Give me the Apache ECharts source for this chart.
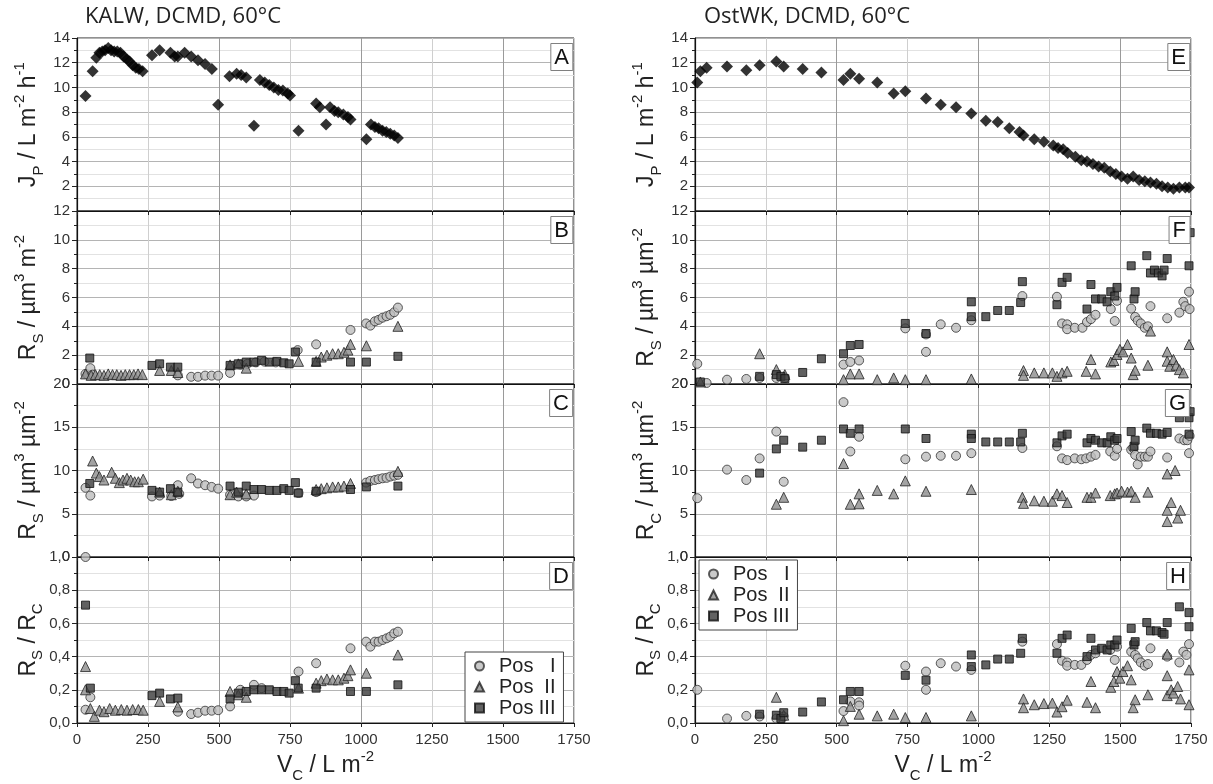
<!DOCTYPE html>
<html>
<head>
<meta charset="utf-8">
<title>KALW / OstWK, DCMD, 60°C</title>
<script src="https://cdn.jsdelivr.net/npm/echarts@6/dist/echarts.min.js"></script>
<style>
  html, body { margin: 0; padding: 0; background: #fff; }
  #chart { width: 1213px; height: 784px; }
</style>
</head>
<body>
<div id="chart"></div>
<script>
// x ticks shared by every panel
const xTicks = { min: 0, max: 1750, interval: 250 };

// ---- KALW (left column) ----
// A: permeate flux
const kalwFlux = [[30,9.3],[55,11.3],[68,12.4],[79,12.8],[89,12.9],[99,13.0],[110,13.2],[120,13.0],[131,12.9],[142,12.9],[153,12.8],[164,12.5],[175,12.3],[185,12.1],[196,11.8],[207,11.6],[218,11.5],[231,11.3],
  [264,12.6],[291,13.0],[329,12.8],[344,12.5],[355,12.5],[379,12.8],[402,12.5],[426,12.2],[451,11.9],[475,11.5],
  [497,8.6],[537,10.9],[562,11.1],[578,11.0],[596,10.8],[623,6.9],
  [644,10.6],[661,10.4],[677,10.2],[693,10.0],[709,9.8],[725,9.75],[742,9.5],[750,9.35],[780,6.5],
  [842,8.7],[855,8.4],[877,7.0],[891,8.4],[907,8.1],[920,8.0],[938,7.8],[954,7.6],[963,7.4],
  [1019,5.8],[1035,7.0],[1049,6.8],[1062,6.7],[1076,6.5],[1089,6.4],[1103,6.25],[1117,6.1],[1130,5.9]];
// B: R_S
const kalwRsI = [[30,0.7],[38,0.65],[47,1.1],[55,0.65],[355,0.6],[402,0.5],[426,0.5],[451,0.58],[474,0.58],[497,0.58],[539,0.77],[575,1.35],[600,1.4],[630,1.5],[660,1.55],[700,1.5],[777,2.35],[842,2.75],[963,3.75],[1018,4.2],[1033,4.05],[1049,4.35],[1062,4.45],[1076,4.6],[1090,4.7],[1103,4.8],[1117,4.98],[1130,5.3]];
const kalwRsII = [[30,0.7],[50,0.6],[65,0.65],[80,0.65],[95,0.6],[110,0.7],[125,0.65],[140,0.65],[155,0.6],[170,0.65],[185,0.65],[200,0.65],[215,0.7],[230,0.65],[291,0.94],[332,0.94],[355,0.8],[539,1.33],[568,1.4],[596,1.1],[780,1.57],[842,1.57],[860,1.87],[880,2.0],[900,2.1],[920,2.1],[940,2.2],[954,2.35],[963,2.75],[1019,2.65],[1130,4.0]];
const kalwRsIII = [[45,1.8],[264,1.29],[291,1.4],[329,1.17],[355,1.17],[539,1.29],[568,1.4],[596,1.52],[623,1.52],[650,1.64],[677,1.52],[704,1.57],[728,1.47],[747,1.4],[769,2.22],[842,1.52],[963,1.52],[1019,1.52],[1130,1.92]];
// C: R_C
const kalwRcI = [[30,8.0],[47,7.1],[264,7.0],[291,7.1],[332,7.05],[355,8.3],[360,7.3],[402,9.1],[426,8.5],[451,8.3],[474,8.1],[497,7.9],[539,7.2],[568,7.0],[596,7.0],[623,7.1],[780,7.4],[842,7.5],[1018,8.6],[1033,8.8],[1049,8.9],[1062,9.0],[1076,9.1],[1090,9.15],[1103,9.3],[1117,9.4],[1130,9.5]];
const kalwRcII = [[55,11.1],[68,9.7],[79,9.3],[95,8.9],[122,9.8],[135,9.1],[149,8.6],[162,8.9],[176,9.1],[189,8.9],[203,8.7],[216,8.7],[233,9.0],[291,7.5],[332,7.2],[355,7.6],[539,7.2],[562,7.5],[596,7.3],[842,7.8],[860,7.9],[880,8.0],[900,8.1],[920,8.1],[940,8.2],[963,8.5],[1130,9.9]];
const kalwRcIII = [[45,8.5],[264,7.7],[291,7.5],[329,7.9],[355,7.5],[539,8.2],[568,7.5],[596,8.2],[623,7.8],[650,7.8],[677,7.7],[704,7.7],[728,7.9],[747,7.7],[769,8.6],[779,7.4],[842,7.6],[963,7.8],[1019,8.1],[1130,8.2]];
// D: R_S / R_C
const kalwRatioI = [[30,1.0],[30,0.08],[47,0.155],[355,0.068],[402,0.054],[426,0.062],[451,0.074],[474,0.074],[497,0.077],[539,0.10],[575,0.2],[623,0.23],[650,0.21],[780,0.31],[842,0.36],[963,0.45],[1018,0.49],[1033,0.46],[1049,0.49],[1062,0.49],[1076,0.50],[1090,0.51],[1103,0.52],[1117,0.54],[1130,0.55]];
const kalwRatioII = [[30,0.34],[30,0.2],[47,0.087],[61,0.04],[79,0.077],[95,0.068],[115,0.087],[135,0.077],[156,0.081],[176,0.077],[196,0.081],[216,0.081],[233,0.077],[291,0.13],[355,0.097],[539,0.19],[568,0.17],[596,0.155],[780,0.21],[842,0.24],[860,0.255],[880,0.265],[900,0.26],[920,0.26],[940,0.27],[954,0.285],[963,0.32],[1019,0.30],[1130,0.41]];
const kalwRatioIII = [[30,0.71],[47,0.21],[264,0.165],[291,0.18],[329,0.145],[355,0.15],[539,0.145],[568,0.18],[596,0.19],[623,0.2],[650,0.2],[677,0.2],[704,0.19],[728,0.19],[747,0.18],[769,0.255],[779,0.21],[842,0.21],[963,0.19],[1019,0.19],[1130,0.23]];

// ---- OstWK (right column) ----
// E: permeate flux
const ostFlux = [[8,10.4],[19,11.3],[41,11.6],[113,11.7],[181,11.4],[228,11.8],[287,12.1],[313,11.7],[380,11.5],[446,11.2],[524,10.6],[548,11.1],[579,10.7],[643,10.4],[701,9.5],[742,9.7],[815,9.1],[867,8.6],[921,8.4],[975,7.9],
  [1026,7.3],[1068,7.2],[1109,6.7],[1145,6.4],[1159,6.1],[1197,5.8],[1231,5.6],[1264,5.3],[1281,5.1],[1299,5.0],[1315,4.7],[1342,4.4],[1363,4.1],[1383,4.0],[1404,3.8],[1424,3.6],[1444,3.5],[1465,3.2],[1485,3.0],[1505,2.8],
  [1526,2.6],[1546,2.8],[1567,2.5],[1587,2.4],[1607,2.3],[1628,2.2],[1648,2.0],[1668,1.9],[1688,1.8],[1709,1.9],[1730,1.9],[1743,1.9]];
// F: R_S
const ostRsI = [[8,1.4],[41,0.07],[113,0.3],[181,0.35],[228,0.42],[287,0.42],[317,0.42],[524,1.35],[548,1.53],[579,1.63],[742,3.86],[815,2.23],[815,3.44],[867,4.14],[921,3.9],[975,4.42],[1155,6.1],[1277,6.05],[1295,4.2],[1313,4.14],[1313,3.8],[1340,3.9],[1367,3.9],[1383,4.3],[1397,4.5],[1413,4.8],
  [1467,5.2],[1481,4.37],[1489,5.77],[1539,5.23],[1553,4.65],[1562,4.4],[1573,4.2],[1587,3.9],[1598,4.0],[1607,5.4],[1666,4.56],[1709,4.95],[1723,5.7],[1730,5.4],[1743,6.4],[1745,5.2]];
const ostRsII = [[19,0.14],[228,2.1],[287,1.0],[317,0.65],[524,0.3],[548,0.7],[579,0.7],[643,0.3],[701,0.42],[742,0.3],[815,0.3],[975,0.35],[1159,0.93],[1159,0.6],[1197,0.77],[1231,0.77],[1261,0.77],[1277,0.53],[1295,0.77],[1313,0.88],[1380,0.88],[1397,1.7],[1413,0.7],
  [1467,1.53],[1478,1.63],[1489,2.05],[1499,2.4],[1510,2.23],[1526,2.74],[1539,1.8],[1546,0.65],[1553,0.95],[1598,1.3],[1607,3.67],[1666,2.23],[1666,1.58],[1675,1.23],[1688,1.7],[1698,1.3],[1709,1.0],[1723,0.77],[1743,2.74]];
const ostRsIII = [[19,0.14],[228,0.53],[287,0.65],[303,0.53],[317,0.37],[380,0.8],[446,1.75],[524,2.1],[548,2.67],[579,2.74],[742,4.2],[815,3.5],[975,5.7],[975,4.67],[1026,4.67],[1068,5.1],[1109,5.1],[1149,5.65],[1155,7.1],[1277,5.5],[1295,7.05],[1313,7.4],[1383,5.2],[1397,6.9],[1413,5.9],[1435,5.9],[1454,5.7],
  [1467,6.4],[1481,6.1],[1489,6.7],[1539,8.2],[1549,5.9],[1553,6.4],[1594,8.9],[1607,7.7],[1621,7.9],[1635,7.7],[1648,7.5],[1655,7.9],[1666,8.7],[1743,8.2],[1747,10.5]];
// G: R_C
const ostRcI = [[8,6.8],[113,10.1],[181,8.9],[228,11.4],[287,14.5],[313,8.7],[524,17.9],[548,12.2],[579,13.9],[742,11.3],[815,11.6],[867,11.7],[921,11.7],[975,12.0],[1155,12.6],[1277,12.8],[1295,11.4],[1313,11.2],[1340,11.4],[1363,11.3],[1380,11.4],[1397,11.6],[1413,11.8],
  [1465,12.2],[1481,11.7],[1489,12.5],[1539,12.4],[1546,12.6],[1553,11.8],[1562,10.7],[1573,11.6],[1587,11.6],[1598,11.6],[1607,12.2],[1666,11.5],[1709,13.7],[1726,13.5],[1737,13.5],[1743,12.0],[1745,14.0]];
const ostRcII = [[287,6.1],[313,6.9],[524,10.8],[548,6.1],[579,7.3],[579,6.15],[643,7.7],[701,7.3],[742,8.8],[815,7.6],[975,7.8],[1155,6.9],[1159,6.2],[1197,6.5],[1231,6.45],[1261,6.45],[1277,7.3],[1295,7.1],[1313,6.3],[1383,6.9],[1397,6.9],[1413,7.4],
  [1465,7.1],[1481,7.3],[1489,7.4],[1505,7.6],[1526,7.5],[1539,7.6],[1553,6.9],[1598,7.5],[1666,4.1],[1666,5.4],[1666,9.6],[1680,6.3],[1694,10.0],[1703,4.5],[1713,5.4]];
const ostRcIII = [[228,9.7],[287,12.5],[313,13.5],[380,12.7],[446,13.5],[524,14.8],[548,14.3],[579,14.8],[742,14.8],[815,13.7],[975,14.2],[975,13.7],[1026,13.3],[1068,13.3],[1109,13.3],[1149,13.3],[1155,14.3],[1277,13.2],[1295,14.0],[1313,14.2],[1383,13.2],[1397,13.7],[1413,13.5],[1435,13.2],[1454,13.2],
  [1467,13.9],[1481,13.5],[1489,13.7],[1539,14.5],[1549,12.8],[1553,13.5],[1594,14.9],[1607,14.3],[1628,14.3],[1648,14.2],[1666,14.4],[1709,16.1],[1743,16.1],[1747,16.8],[1743,14.2]];
// H: R_S / R_C
const ostRatioI = [[8,0.20],[113,0.027],[181,0.043],[228,0.039],[287,0.027],[313,0.039],[524,0.072],[548,0.13],[579,0.125],[579,0.105],[742,0.345],[815,0.2],[815,0.31],[867,0.36],[921,0.34],[975,0.32],[1155,0.49],[1277,0.475],[1295,0.375],[1313,0.365],[1313,0.345],[1340,0.35],[1363,0.35],[1383,0.38],[1397,0.41],[1413,0.42],
  [1465,0.44],[1481,0.38],[1489,0.46],[1539,0.43],[1549,0.48],[1553,0.41],[1562,0.39],[1573,0.365],[1587,0.345],[1598,0.355],[1607,0.45],[1666,0.40],[1709,0.365],[1723,0.43],[1734,0.41],[1743,0.475]];
const ostRatioII = [[287,0.155],[313,0.047],[524,0.014],[548,0.10],[579,0.053],[643,0.043],[701,0.053],[742,0.033],[815,0.033],[975,0.043],[1159,0.145],[1159,0.092],[1197,0.11],[1231,0.117],[1261,0.12],[1277,0.066],[1295,0.098],[1313,0.137],[1383,0.125],[1397,0.25],[1413,0.092],
  [1467,0.215],[1478,0.25],[1489,0.31],[1499,0.27],[1510,0.31],[1526,0.345],[1539,0.26],[1546,0.092],[1553,0.14],[1598,0.17],[1666,0.285],[1666,0.415],[1666,0.165],[1680,0.2],[1688,0.18],[1703,0.22],[1713,0.145],[1743,0.11],[1743,0.32]];
const ostRatioIII = [[228,0.053],[287,0.047],[303,0.027],[313,0.062],[380,0.066],[446,0.127],[524,0.14],[548,0.19],[579,0.19],[742,0.287],[815,0.258],[975,0.41],[975,0.34],[1026,0.35],[1068,0.385],[1109,0.385],[1149,0.42],[1155,0.51],[1277,0.42],[1295,0.51],[1313,0.53],[1383,0.40],[1397,0.51],[1413,0.44],[1435,0.45],[1454,0.44],
  [1467,0.47],[1481,0.47],[1489,0.50],[1539,0.57],[1549,0.47],[1553,0.49],[1594,0.605],[1607,0.555],[1628,0.555],[1648,0.545],[1655,0.535],[1666,0.605],[1709,0.70],[1743,0.665],[1743,0.58]];

// y ranges, one per row
const yRanges = [
  { min: 0, max: 14, interval: 2 },
  { min: 0, max: 12, interval: 2 },
  { min: 0, max: 20, interval: 5 },
  { min: 0, max: 1, interval: 0.2 }
];
const letters = ["A", "B", "C", "D", "E", "F", "G", "H"];
const yNames = [
  "{m|J}{sub|P}{m| / L m}{sup|-2}{m| h}{sup|-1}",
  "{m|R}{sub|S}{m| / µm}{sup|3}{m| m}{sup|-2}",
  "{m|R}{sub|S}{m| / µm}{sup|3}{m| µm}{sup|-2}",
  "{m|R}{sub|S}{m| / R}{sub|C}",
  "{m|J}{sub|P}{m| / L m}{sup|-2}{m| h}{sup|-1}",
  "{m|R}{sub|S}{m| / µm}{sup|3}{m| µm}{sup|-2}",
  "{m|R}{sub|C}{m| / µm}{sup|3}{m| µm}{sup|-2}",
  "{m|R}{sub|S}{m| / R}{sub|C}"
];
const posNames = ["Pos I", "Pos II", "Pos III"];

// layout
const rowTops = [38, 211, 384, 557];
const rowH = 173;
const colLeft = [77, 695];
const colW = [497, 496];
const W = 1213;

const font = "Liberation Sans";
const richName = {
  m: { fontSize: 23, lineHeight: 34, fontFamily: font, color: "#222" },
  sub: { fontSize: 15, verticalAlign: "bottom", fontFamily: font, color: "#222" },
  sup: { fontSize: 15, verticalAlign: "top", fontFamily: font, color: "#222" }
};

const posStyle = {
  "Pos I": { symbol: "circle", symbolSize: 9, itemStyle: { color: "#bdbdbd", borderColor: "#333", borderWidth: 1 } },
  "Pos II": { symbol: "triangle", symbolSize: 10, itemStyle: { color: "#8c8c8c", borderColor: "#222", borderWidth: 1 } },
  "Pos III": { symbol: "rect", symbolSize: 8, itemStyle: { color: "#3a3a3a", borderColor: "#111", borderWidth: 1 } }
};

const panelData = [
  [kalwFlux],
  [kalwRsI, kalwRsII, kalwRsIII],
  [kalwRcI, kalwRcII, kalwRcIII],
  [kalwRatioI, kalwRatioII, kalwRatioIII],
  [ostFlux],
  [ostRsI, ostRsII, ostRsIII],
  [ostRcI, ostRcII, ostRcIII],
  [ostRatioI, ostRatioII, ostRatioIII]
];

const grids = [], xAxes = [], yAxes = [], series = [];
const titles = [
  { text: "KALW, DCMD, 60°C", left: 80, top: 1, textStyle: { fontSize: 22, fontWeight: "normal", fontFamily: "Open Sans", color: "#222" } },
  { text: "OstWK, DCMD, 60°C", left: 699, top: 1, textStyle: { fontSize: 22, fontWeight: "normal", fontFamily: "Open Sans", color: "#222" } }
];

for (let p = 0; p < 8; p++) {
  const col = p < 4 ? 0 : 1;
  const row = p % 4;
  const yr = yRanges[row];
  grids.push({ left: colLeft[col], top: rowTops[row], width: colW[col], height: rowH, show: true, borderColor: "#222", borderWidth: 1 });

  xAxes.push({
    type: "value", gridIndex: p, min: xTicks.min, max: xTicks.max, interval: xTicks.interval,
    axisLine: { lineStyle: { color: "#111", width: 1.2 } },
    axisTick: { show: true, length: 4, lineStyle: { color: "#222" } },
    axisLabel: { show: row === 3, fontSize: 15, fontFamily: font, color: "#333", margin: 9, formatter: (v) => String(v) },
    splitLine: { show: true, lineStyle: { color: ["#9a9a9a", "#cfcfcf"], width: 1 } },
    name: row === 3 ? "{m|V}{sub|C}{m| / L m}{sup|-2}" : "",
    nameLocation: "middle", nameGap: 26,
    nameTextStyle: { rich: richName }
  });

  yAxes.push({
    type: "value", gridIndex: p, min: yr.min, max: yr.max, interval: yr.interval,
    axisLine: { show: true, lineStyle: { color: "#111", width: 1.2 } },
    axisTick: { show: true, length: 5, lineStyle: { color: "#222" } },
    minorTick: { show: true, splitNumber: 2, length: 3, lineStyle: { color: "#222" } },
    axisLabel: {
      fontSize: 15, fontFamily: font, color: "#333", margin: 7,
      showMinLabel: row !== 0,
      formatter: row === 3 ? (v) => v.toFixed(1).replace(".", ",") : (v) => String(v)
    },
    splitLine: { show: true, lineStyle: { color: "#b4b4b4", width: 1 } },
    minorSplitLine: { show: true, lineStyle: { color: "#e2e2e2", width: 1 } },
    name: yNames[p], nameLocation: "middle", nameRotate: 90, nameGap: 31,
    nameTextStyle: { rich: richName }
  });

  titles.push({
    text: letters[p],
    right: W - (colLeft[col] + colW[col]) + 1,
    top: rowTops[row] + 5,
    padding: [4, 4, 2, 4],
    borderColor: "#808080", borderWidth: 1, backgroundColor: "#fff",
    textStyle: { fontSize: 22, fontWeight: "normal", fontFamily: font, color: "#111" }
  });

  const sets = panelData[p];
  if (sets.length === 1) {
    series.push({
      name: "flux", type: "scatter", xAxisIndex: p, yAxisIndex: p,
      symbol: "diamond", symbolSize: 12, itemStyle: { color: "#000" },
      data: sets[0], z: 3
    });
  } else {
    sets.forEach((d, k) => {
      const st = posStyle[posNames[k]];
      series.push({
        name: posNames[k], type: "scatter", xAxisIndex: p, yAxisIndex: p,
        symbol: st.symbol, symbolSize: st.symbolSize, itemStyle: st.itemStyle,
        data: d, z: 3 + k
      });
    });
  }
}

const legendBase = {
  orient: "vertical", data: posNames, selectedMode: false,
  backgroundColor: "#fff", borderColor: "#444", borderWidth: 1,
  padding: [4, 8, 4, 9], itemGap: 1, itemWidth: 9, itemHeight: 9,
  formatter: (name) => "{p|Pos}{r|" + name.split(" ")[1] + "}",
  textStyle: {
    fontSize: 20, fontFamily: font, color: "#222",
    rich: {
      p: { fontSize: 20, fontFamily: font, padding: [0, 0, 0, 10], color: "#222" },
      r: { fontSize: 20, fontFamily: font, width: 22, align: "right", color: "#222" }
    }
  }
};

const chart = echarts.init(document.getElementById("chart"), null, { renderer: "canvas" });
chart.setOption({
  animation: false,
  backgroundColor: "#fff",
  title: titles,
  grid: grids,
  xAxis: xAxes,
  yAxis: yAxes,
  legend: [
    Object.assign({}, legendBase, { left: 465, top: 652 }),
    Object.assign({}, legendBase, { left: 699, top: 560 })
  ],
  series: series
});
</script>
</body>
</html>
